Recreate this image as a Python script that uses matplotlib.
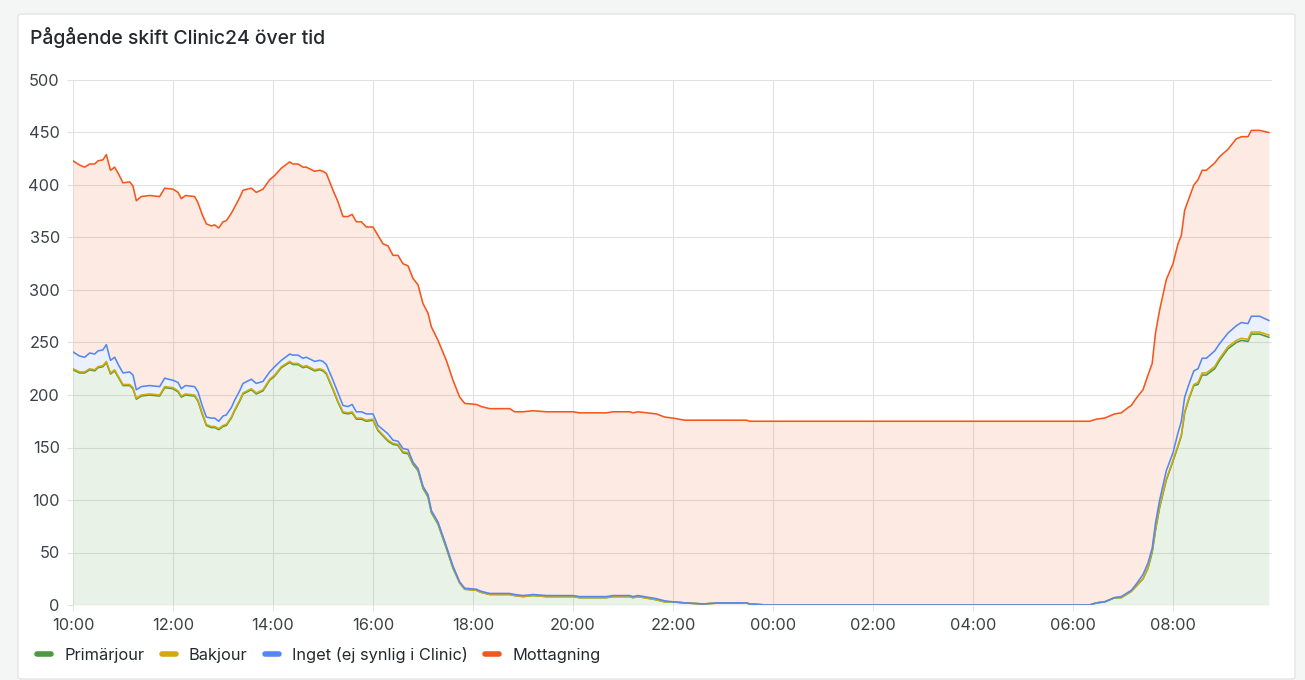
import numpy as np
import matplotlib.pyplot as plt
from matplotlib.lines import Line2D
from matplotlib.patches import FancyBboxPatch

plt.rcParams['font.family'] = ['Inter', 'DejaVu Sans']

# --- data ---
times = [
    "10:00", "10:08", "10:14", "10:20", "10:26", "10:30", "10:36", "10:40", "10:45", "10:50", "10:55",
    "11:00", "11:08", "11:12", "11:16", "11:22", "11:32", "11:44", "11:50",
    "12:00", "12:06", "12:10", "12:15", "12:26", "12:30", "12:35", "12:40", "12:46", "12:50", "12:55",
    "13:00", "13:04", "13:10", "13:14", "13:20", "13:24", "13:34", "13:40", "13:48", "13:56",
    "14:02", "14:10", "14:20", "14:24", "14:30", "14:36", "14:40", "14:50", "14:56",
    "15:00", "15:04", "15:12", "15:18", "15:24", "15:30", "15:35", "15:40", "15:46", "15:52",
    "16:00", "16:06", "16:12", "16:18", "16:24", "16:30", "16:36", "16:42", "16:48", "16:54",
    "17:00", "17:06", "17:10", "17:18", "17:28", "17:36", "17:44", "17:50",
    "18:04", "18:10", "18:20", "18:44", "18:50",
    "19:00", "19:12", "19:28",
    "20:00", "20:08", "20:40", "20:48",
    "21:08", "21:12", "21:18", "21:40", "21:50",
    "22:00", "22:14", "22:36", "22:56",
    "23:28", "23:32", "23:52",
    "06:20", "06:28", "06:38", "06:50", "06:58",
    "07:06", "07:10", "07:16", "07:24", "07:30", "07:35", "07:39", "07:44", "07:52",
    "08:00", "08:06", "08:10", "08:14", "08:19", "08:25", "08:30", "08:35", "08:40", "08:50", "08:56",
    "09:06", "09:16", "09:22", "09:30", "09:34", "09:44", "09:55",
]

primarjour = [
    224, 221, 221, 224, 223, 226, 227, 231, 220, 223, 216,
    209, 209, 206, 196, 199, 200, 199, 207,
    206, 203, 198, 200, 199, 194, 182, 171, 169, 169, 167,
    170, 171, 178, 185, 194, 201, 205, 201, 204, 214,
    218, 226, 231, 229, 229, 226, 227, 223, 224,
    223, 220, 205, 193, 183, 182, 183, 177, 177, 175,
    176, 166, 161, 156, 153, 152, 145, 144, 134, 128,
    111, 103, 88, 77, 54, 35, 21, 15,
    14, 12, 10, 10, 9,
    8, 9, 8,
    8, 7, 7, 8,
    8, 7, 8, 5, 3,
    3, 2, 1, 2,
    2, 1, 0,
    0, 2, 3, 7, 7,
    11, 13, 18, 25, 35, 50, 71, 93, 119,
    137, 151, 161, 183, 196, 209, 210, 219, 219, 225, 233,
    244, 250, 252, 251, 258, 258, 255,
]

bakjour = [
    1, 1, 1, 1, 1, 1, 1, 1, 1, 1, 1,
    1, 1, 1, 1, 1, 1, 1, 1,
    1, 1, 1, 1, 1, 1, 1, 1, 1, 1, 1,
    1, 1, 1, 1, 1, 1, 1, 1, 1, 1,
    1, 1, 1, 1, 1, 1, 1, 1, 1,
    1, 1, 1, 1, 1, 1, 1, 1, 1, 1,
    1, 1, 1, 1, 1, 1, 1, 1, 1, 1,
    1, 1, 1, 1, 1, 1, 0, 0,
    0, 0, 0, 0, 0,
    0, 0, 0,
    0, 0, 0, 0,
    0, 0, 0, 0, 0,
    0, 0, 0, 0,
    0, 0, 0,
    0, 0, 0, 0, 0,
    0, 0, 0, 0, 1, 1, 1, 1, 1,
    1, 1, 1, 1, 1, 1, 2, 2, 2, 2, 2,
    2, 2, 2, 2, 2, 2, 2,
]

inget = [
    16, 15, 14, 15, 15, 15, 15, 16, 12, 12, 11,
    11, 12, 12, 8, 8, 8, 8, 8,
    7, 8, 7, 8, 8, 8, 7, 7, 8, 8, 7,
    9, 9, 9, 9, 9, 9, 9, 9, 8, 7,
    8, 6, 7, 8, 8, 8, 8, 8, 8,
    8, 8, 8, 8, 6, 6, 7, 6, 6, 6,
    5, 4, 5, 6, 3, 3, 3, 3, 1, 1,
    1, 1, 1, 1, 1, 1, 1, 1,
    1, 1, 1, 1, 1,
    1, 1, 1,
    1, 1, 1, 1,
    1, 1, 1, 1, 1,
    0, 0, 0, 0,
    0, 0, 0,
    0, 0, 0, 0, 1,
    1, 1, 2, 4, 4, 3, 6, 6, 8,
    7, 12, 13, 14, 13, 13, 13, 14, 14, 15, 14,
    13, 14, 15, 15, 15, 15, 14,
]

mottagning = [
    182, 182, 181, 180, 181, 181, 181, 181, 181, 181, 182,
    181, 181, 180, 180, 181, 181, 181, 181,
    182, 181, 181, 181, 181, 180, 182, 184, 183, 184, 184,
    185, 185, 185, 184, 184, 184, 182, 182, 183, 183,
    182, 183, 183, 182, 182, 182, 181, 181, 181,
    181, 182, 181, 182, 180, 181, 181, 181, 181, 178,
    178, 181, 177, 179, 176, 177, 176, 175, 175, 175,
    174, 173, 175, 173, 177, 177, 176, 176,
    176, 176, 176, 176, 174,
    175, 175, 175,
    175, 175, 175, 175,
    175, 175, 175, 176, 175,
    175, 174, 175, 174,
    174, 174, 175,
    175, 175, 175, 175, 175,
    176, 176, 177, 176, 179, 176, 181, 181, 182,
    180, 180, 177, 178, 177, 177, 180, 179, 179, 179, 178,
    175, 178, 177, 178, 177, 177, 179,
]

series_names = ["Primärjour", "Bakjour", "Inget (ej synlig i Clinic)", "Mottagning"]
series_colors = ["#4b9a3e", "#d4a90a", "#5588ee", "#f4561d"]
tick_labels = ["10:00", "12:00", "14:00", "16:00", "18:00", "20:00",
               "22:00", "00:00", "02:00", "04:00", "06:00", "08:00"]


def hours_since_start(t):
    h, m = t.split(":")
    x = int(h) + int(m) / 60.0 - 10
    if x < 0:
        x += 24
    return x


x = np.array([hours_since_start(t) for t in times])
values = [np.array(v, dtype=float) for v in (primarjour, bakjour, inget, mottagning)]
stacked = np.cumsum(values, axis=0)

fig = plt.figure(figsize=(13.05, 6.8), dpi=100)
fig.patch.set_facecolor("#f4f5f5")

# panel card
W, H = 1305.0, 680.0
panel = FancyBboxPatch((18 / W, 1 - 679 / H), (1295 - 18) / W, (679 - 14) / H,
                       boxstyle="round,pad=0,rounding_size=0.003",
                       transform=fig.transFigure, facecolor="white",
                       edgecolor="#e3e4e6", linewidth=1, zorder=-10)
fig.patches.append(panel)

fig.text(30 / W, 1 - 38 / H, "Pågående skift Clinic24 över tid",
         fontsize=14, fontweight="medium", color="#24292e", va="center", ha="left")

ax = fig.add_axes([73 / W, 1 - 605 / H, (1272 - 73) / W, (605 - 80) / H])
ax.set_zorder(1)
ax.set_facecolor("white")

grid_c = "#e2e2e2"
for s in ax.spines.values():
    s.set_visible(False)

lower = np.zeros_like(x)
for k in range(4):
    ax.fill_between(x, lower, stacked[k], color=series_colors[k], alpha=0.12,
                    linewidth=0, zorder=2)
    lower = stacked[k]
for k in range(4):
    ax.plot(x, stacked[k], color=series_colors[k], linewidth=1.15, zorder=3 + k,
            solid_joinstyle="round")

ax.set_xlim(0, 23.98)
ax.set_ylim(0, 500)
ax.set_xticks(np.arange(0, 24, 2))
ax.set_xticklabels(tick_labels)
ax.set_yticks(np.arange(0, 501, 50))
ax.grid(True, color=grid_c, linewidth=0.8, zorder=1)
ax.set_axisbelow(True)
ax.tick_params(axis="both", length=4.5, width=0.8, color=grid_c,
               labelsize=11.8, labelcolor="#3d4147", pad=5)

handles = [Line2D([0], [0], color=c, linewidth=4, solid_capstyle="round")
           for c in series_colors]
fig.legend(handles, series_names, loc="center left",
           bbox_to_anchor=(29 / W, 1 - 655 / H), ncol=4, frameon=False,
           borderpad=0, fontsize=11.8, handlelength=0.85, handletextpad=0.8,
           columnspacing=1.07, labelcolor="#24292e")

fig.savefig("out.png", dpi=100, facecolor=fig.get_facecolor())
